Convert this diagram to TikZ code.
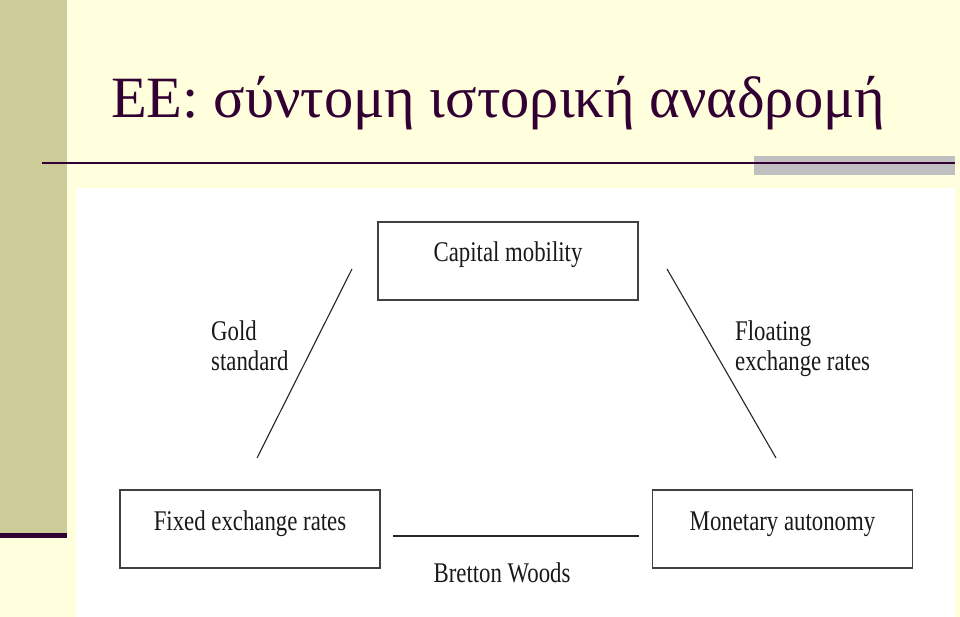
\documentclass[tikz,border=0pt]{standalone}
\usepackage{fontspec}
\setmainfont{Liberation Serif}
\newfontfamily\narrowserif[FakeStretch=0.8]{Liberation Serif}
\definecolor{bgyellow}{HTML}{FFFFDD}
\definecolor{khaki}{HTML}{CCCC99}
\definecolor{titlecol}{HTML}{330033}
\definecolor{graybar}{HTML}{C0C0C0}
\definecolor{boxline}{HTML}{404040}
\tikzset{
  box/.style={draw=boxline, line width=1.3pt, minimum width=260pt, inner xsep=0pt, inner ysep=0pt,
    text height=40pt, text depth=38pt, font=\narrowserif\fontsize{28.5}{30}\selectfont, text=black!90},
  lbl/.style={font=\narrowserif\fontsize{28.5}{30}\selectfont, align=left, inner sep=0pt, text=black!90},
  conn/.style={draw=black!85, line width=1.1pt}
}
\begin{document}
\begin{tikzpicture}[x=1pt,y=-1pt]
\useasboundingbox (0,0) rectangle (960,617);
\fill[bgyellow] (0,0) rectangle (960,617);
\fill[khaki] (0,0) rectangle (67,533);
\fill[titlecol] (0,533) rectangle (67,538);
\fill[graybar] (754,156) rectangle (955,175);
\draw[titlecol, line width=2pt] (42,163.5) -- (955,163.5);
\fill[white] (76,188) rectangle (955,617);
\node[anchor=base west, inner sep=0pt, text=titlecol, font=\fontsize{58.5}{64}\selectfont] (title) at (111,118) {ΕΕ: σύντομη ιστορική αναδρομή};

\node[box] (cap) at (508,261) {Capital mobility};
\node[box] (fix) at (250,529) {Fixed exchange rates};
\node[box] (mon) at (782.5,529) {Monetary autonomy};

\coordinate (l1) at (352,269);
\coordinate (l2) at (257,458);
\coordinate (r1) at (667,269);
\coordinate (r2) at (776,458);
\coordinate (b1) at (393,536);
\coordinate (b2) at (639,536);
\draw[conn] (l1) -- (l2);
\draw[conn] (r1) -- (r2);
\draw[conn] (b1) -- (b2);

\node[lbl, anchor=north west] (gold) at (211,321) {Gold\\standard};
\node[lbl, anchor=north west] (float) at (735,321) {Floating\\exchange rates};
\node[lbl, anchor=base] (bw) at (502,582) {Bretton Woods};
\end{tikzpicture}
\end{document}
